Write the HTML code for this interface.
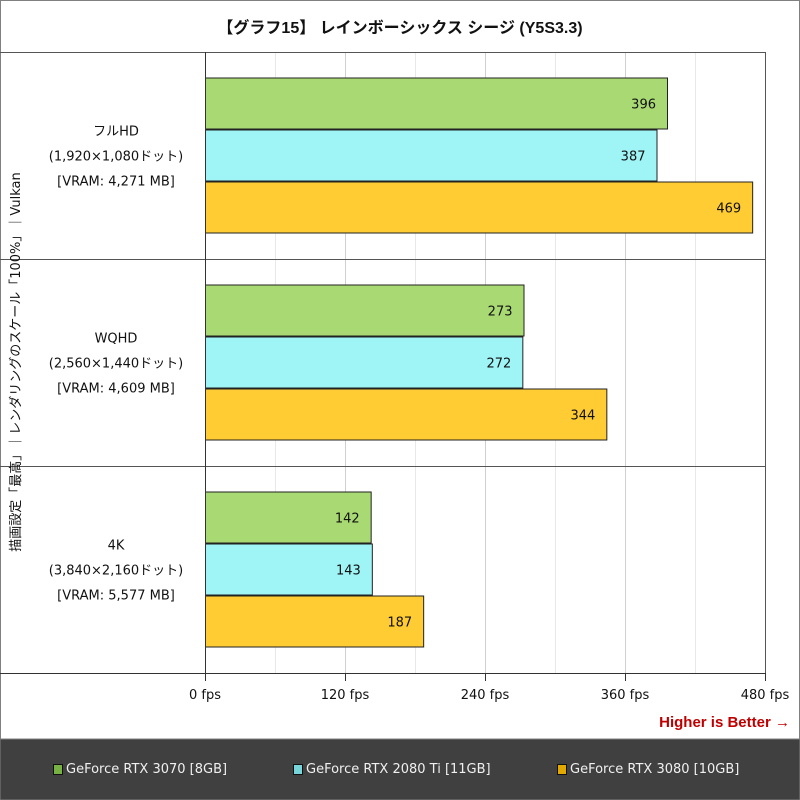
<!DOCTYPE html>
<html><head><meta charset="utf-8"><style>
body{margin:0;background:#fff}
svg{display:block;font-family:"DejaVu Sans","Noto Sans CJK JP",sans-serif}
.b{font-family:"Liberation Sans","Noto Sans CJK JP",sans-serif}
</style></head><body>
<svg id="chart" width="800" height="800">
<rect x="0.5" y="0.5" width="799" height="799" fill="#fff" stroke="#808080"/>
<text class="b" x="400" y="33" text-anchor="middle" font-size="16" font-weight="bold" fill="#111">【グラフ15】 レインボーシックス シージ (Y5S3.3)</text>
<g id="grid"></g><g id="bars"></g><g id="cats"></g><g id="ticks"></g>
<line x1="0" y1="52.5" x2="765" y2="52.5" stroke="#555"/>
<line x1="765.5" y1="52" x2="765.5" y2="673" stroke="#555"/>
<line x1="0" y1="673.5" x2="765" y2="673.5" stroke="#333"/>
<line x1="205.5" y1="52" x2="205.5" y2="673" stroke="#333"/>
<text transform="translate(20,362) rotate(-90)" text-anchor="middle" font-size="13" fill="#111">描画設定「最高」｜レンダリングのスケール「100%」｜Vulkan</text>
<text class="b" x="790" y="727" text-anchor="end" font-size="15" font-weight="bold" fill="#c00000">Higher is Better →</text>
<rect x="0" y="739" width="800" height="61" fill="#404040" stroke="#808080"/>
<g id="legend"></g>
</svg>
<script>
const categories=["フルHD","WQHD","4K"];
const catSub=["(1,920×1,080ドット)","(2,560×1,440ドット)","(3,840×2,160ドット)"];
const catVram=["[VRAM: 4,271 MB]","[VRAM: 4,609 MB]","[VRAM: 5,577 MB]"];
const seriesNames=["GeForce RTX 3070 [8GB]","GeForce RTX 2080 Ti [11GB]","GeForce RTX 3080 [10GB]"];
const rtx3070=[396,273,142];
const rtx2080ti=[387,272,143];
const rtx3080=[469,344,187];
const tickValues=[0,120,240,360,480];
const colors=["#a9d973","#9ff4f6","#ffcc33"];
const legendColors=["#77b043","#77d4d8","#e0a800"];
const series=[rtx3070,rtx2080ti,rtx3080];
const NS="http://www.w3.org/2000/svg";
const plotX0=205,plotX1=765,xMax=480,plotTop=52,plotBottom=673;
const xs=v=>plotX0+(v/xMax)*(plotX1-plotX0);
const gh=(plotBottom-plotTop)/categories.length;
function mk(tag,attrs,parent,text){const e=document.createElementNS(NS,tag);for(const k in attrs)e.setAttribute(k,attrs[k]);if(text!==undefined)e.textContent=text;document.getElementById(parent).appendChild(e);return e;}
for(let v=60;v<xMax;v+=60){
  const el=mk('line',{x1:xs(v)+0.5,x2:xs(v)+0.5,y1:plotTop,y2:plotBottom,stroke:v%120===0?'#d0d0d0':'#e8e8e8'},'grid');
  
  
}
for(let i=1;i<categories.length;i++){
  const yy=Math.round(plotTop+gh*i)+0.5;
  const el=mk('line',{x1:0,x2:765,y1:yy,y2:yy,stroke:'#555'},'grid');
  
  
}
tickValues.forEach(v=>{
  const t=mk('line',{x1:xs(v)+0.5,x2:xs(v)+0.5,y1:plotBottom,y2:plotBottom+8,stroke:'#333'},'ticks');
  
  
  const l=mk('text',{x:xs(v),y:699,'text-anchor':'middle','font-size':'13',fill:'#111'},'ticks',v+' fps');
  
  
});
const barH=52,pad=(gh-barH*3)/2;
categories.forEach((c,i)=>{
  const gy=plotTop+gh*i;
  series.forEach((s,j)=>{
    const y=gy+pad+j*barH;
    const r=mk('rect',{x:plotX0+0.5,y:y+0.5,width:xs(s[i])-plotX0,height:barH-1,fill:colors[j],stroke:'#222'},'bars');
    
    
    const t=mk('text',{x:xs(s[i])-11,y:y+barH/2+5,'text-anchor':'end','font-size':'13',fill:'#111'},'bars',s[i]);
    
    
  });
  const cy=gy+gh/2;
  [[c,-25],[catSub[i],0],[catVram[i],25]].forEach(([txt,dy])=>{
    const t=mk('text',{x:116,y:cy+dy+5,'text-anchor':'middle','font-size':'13',fill:'#111'},'cats',txt);
    
    
  });
});
const lx=[53,293,557];
seriesNames.forEach((n,j)=>{
  const r=mk('rect',{x:lx[j]+0.5,y:764.5,width:9,height:10,fill:legendColors[j],stroke:'#111'},'legend');
  
  
  const t=mk('text',{x:lx[j]+13,y:773,'font-size':'13',fill:'#f0f0f0'},'legend',n);
  
  
});
</script>
</body></html>
